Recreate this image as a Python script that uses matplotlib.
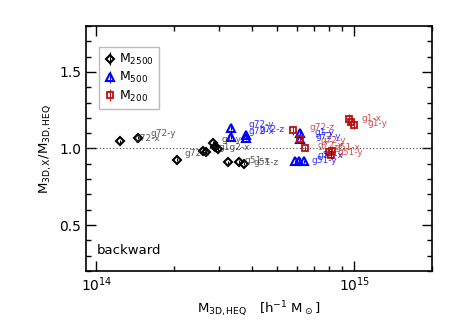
import matplotlib.pyplot as plt

# M2500 (black diamonds)
m2500_x = [1.23e14, 1.45e14, 2.05e14, 2.6e14, 2.65e14, 2.82e14, 2.88e14, 2.95e14, 3.23e14, 3.58e14, 3.72e14]
m2500_y = [1.048, 1.07, 0.928, 0.985, 0.975, 1.037, 1.01, 0.995, 0.91, 0.912, 0.90]
m2500_err = [0.01, 0.01, 0.01, 0.012, 0.01, 0.012, 0.01, 0.01, 0.01, 0.01, 0.01]

# M500 (blue triangles)
m500_x = [3.32e14, 3.32e14, 3.8e14, 3.8e14, 6.17e14, 6.17e14, 5.9e14, 6.1e14, 6.4e14]
m500_y = [1.135, 1.076, 1.09, 1.07, 1.10, 1.065, 0.915, 0.92, 0.915]
m500_err = [0.012, 0.012, 0.012, 0.012, 0.015, 0.015, 0.012, 0.012, 0.012]

# M200 (red squares)
m200_x = [5.8e14, 6.17e14, 6.45e14, 7.95e14, 8.1e14, 8.2e14, 9.5e14, 9.7e14, 1.0e15]
m200_y = [1.12, 1.065, 1.0, 0.98, 0.96, 0.985, 1.19, 1.17, 1.155]
m200_err = [0.03, 0.025, 0.015, 0.03, 0.03, 0.03, 0.035, 0.035, 0.03]

# cluster labels: (x, y, text, colour)
labels = [
    (1.40e14, 1.05, "g72-x", "#333333"),
    (1.62e14, 1.08, "g72-y", "#333333"),
    (2.2e14, 0.95, "g72-z", "#333333"),
    (3.05e14, 1.045, "g1-y", "#333333"),
    (2.98e14, 0.99, "g1g2-x", "#333333"),
    (3.75e14, 0.905, "g51-x", "#333333"),
    (4.05e14, 0.89, "g51-z", "#333333"),
    (3.9e14, 1.14, "g72-y", "blue"),
    (3.9e14, 1.095, "g72-x", "blue"),
    (4.3e14, 1.105, "g72-z", "blue"),
    (6.7e14, 1.12, "g72-z", "#cc2222"),
    (7.0e14, 1.09, "g1-y", "blue"),
    (7.1e14, 1.06, "g72-y", "blue"),
    (7.4e14, 1.035, "g72-y", "#cc2222"),
    (7.2e14, 1.0, "g72-x", "#cc2222"),
    (8.4e14, 0.99, "g51-x", "#cc2222"),
    (8.6e14, 0.96, "g51-y", "#cc2222"),
    (6.8e14, 0.905, "g51-y", "blue"),
    (7.2e14, 0.935, "g51-x", "blue"),
    (1.07e15, 1.18, "g1-x", "#cc2222"),
    (1.13e15, 1.15, "g1-y", "#cc2222"),
]

fig = plt.figure(figsize=(4.57, 3.26), dpi=100)
ax = fig.add_axes([0.188, 0.169, 0.757, 0.751])

ax.axhline(1.0, color="#444444", ls=(0, (1, 2)), lw=0.8)

ax.errorbar(m2500_x, m2500_y, yerr=m2500_err, fmt="D", ms=4, mfc="none",
            mec="black", mew=1.5, ecolor="black", elinewidth=0.8, capsize=0,
            label="M$_{2500}$")
ax.errorbar(m500_x, m500_y, yerr=m500_err, fmt="^", ms=5.5, mfc="none",
            mec="blue", mew=1.5, ecolor="blue", elinewidth=0.8, capsize=0,
            label="M$_{500}$")
ax.errorbar(m200_x, m200_y, yerr=m200_err, fmt="s", ms=5, mfc="none",
            mec="#bb1111", mew=1.3, ecolor="#bb1111", elinewidth=0.8, capsize=0,
            label="M$_{200}$")

for x, y, t, c in labels:
    ax.text(x, y, t, color=c, fontsize=6.5, alpha=0.8)

ax.set_xscale("log")
ax.set_xlim(9.1e13, 2.0e15)
ax.set_ylim(0.2, 1.8)
ax.set_yticks([0.5, 1.0, 1.5])
ax.set_yticks([i / 10 for i in range(2, 19)], minor=True)
ax.tick_params(which="both", direction="in", top=True, right=True, labelsize=10)
ax.tick_params(which="major", length=7, width=1)
ax.tick_params(which="minor", length=3.5, width=1)
for s in ax.spines.values():
    s.set_linewidth(1.2)

ax.set_xlabel(r"M$_{\rm 3D,HEQ}$   [h$^{-1}$ M$_\odot$]", fontsize=9.5)
ax.set_ylabel(r"M$_{\rm 3D,X}$/M$_{\rm 3D,HEQ}$", fontsize=9.5)

ax.text(0.03, 0.07, "backward", transform=ax.transAxes, fontsize=9.5)

leg = ax.legend(loc="upper left", bbox_to_anchor=(0.02, 0.94), fontsize=9,
                handletextpad=0.2, handlelength=1.0, borderpad=0.4,
                labelspacing=0.25, fancybox=False, framealpha=1)
leg.get_frame().set_edgecolor("#bbbbbb")

fig.savefig("out.png", dpi=100)
